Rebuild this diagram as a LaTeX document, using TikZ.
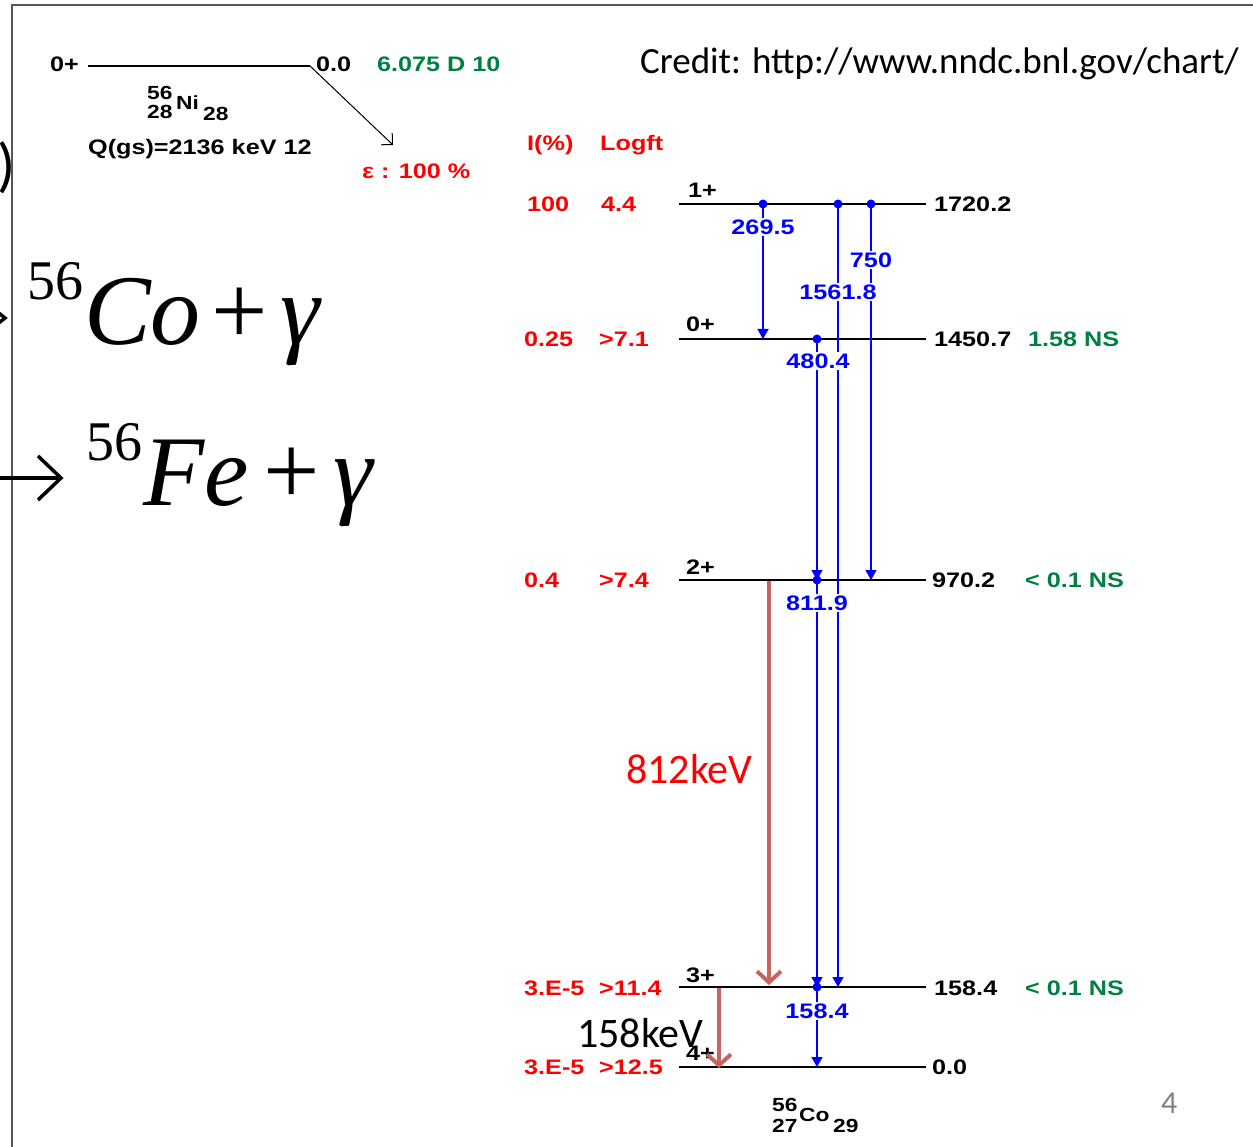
\documentclass[tikz,border=0pt]{standalone}
\usepackage{fontspec}
\usetikzlibrary{arrows.meta}
\newfontfamily\chartfont{Liberation Sans}[FakeStretch=1.2]
\newfontfamily\slidefont{Carlito}
\newfontfamily\eqfont{Liberation Serif}
\definecolor{chartred}{RGB}{255,0,0}
\definecolor{chartblue}{RGB}{0,0,255}
\definecolor{chartgreen}{RGB}{0,128,64}
\definecolor{markred}{RGB}{200,100,95}
\definecolor{framegray}{RGB}{85,85,85}
\definecolor{pagegray}{RGB}{128,128,128}
\tikzset{
  chart/.style={font=\chartfont\bfseries\fontsize{21}{21}\selectfont, inner sep=0pt, anchor=base west},
  small/.style={font=\chartfont\bfseries\fontsize{19}{19}\selectfont, inner sep=0pt, anchor=base west},
  redtxt/.style={chart, text=chartred},
  greentxt/.style={chart, text=chartgreen},
  lvl/.style={draw=black, line width=1.5pt},
  gam/.style={draw=chartblue, line width=1.6pt, -{Triangle[width=11pt,length=10pt]}},
  glab/.style={font=\chartfont\bfseries\fontsize{21}{21}\selectfont, text=chartblue, fill=white, inner sep=2pt, anchor=center},
  gdot/.style={fill=chartblue},
  hiarrow/.style={draw=markred, line width=4pt, -{Straight Barb[length=11pt,width=24pt]}},
  slide/.style={inner sep=0pt, anchor=base west},
  eqbig/.style={font=\eqfont\fontsize{100}{100}\selectfont, inner sep=0pt, anchor=base west},
  eqsup/.style={font=\eqfont\fontsize{56}{56}\selectfont, inner sep=0pt, anchor=base west},
}
\begin{document}
\begin{tikzpicture}[x=1pt,y=-1pt]
\useasboundingbox (0,0) rectangle (1253,1147);

% slide frame
\coordinate (frameBL) at (12,1160);
\coordinate (frameTL) at (12,5);
\coordinate (frameTR) at (1260,5);
\draw[framegray, line width=2.5pt] (frameBL) -- (frameTL) -- (frameTR);

% reaction equations on the slide (partly cut at the left edge)
\node[font=\slidefont\fontsize{60}{60}\selectfont, inner sep=0pt, anchor=east] (paren) at (16,168) {)};
\draw[black, line width=3.5pt] (-20,298) -- (5,318) -- (-20,338);
\node[eqsup] (supA) at (27,300) {56};
\node[eqbig] (coBig) at (84,345) {\itshape Co};
\node[eqbig] (plusA) at (211,345) {+};
\node[eqbig] (gamA) at (280,345) {\itshape γ};
\draw[black, line width=3.5pt] (-5,478) -- (60,478);
\draw[black, line width=3.5pt] (38,456) -- (61,478) -- (38,500);
\node[eqsup] (supB) at (86,460) {56};
\node[eqbig] (feBig) at (143,505) {\itshape Fe};
\node[eqbig] (plusB) at (263,504) {+};
\node[eqbig] (gamB) at (333,505) {\itshape γ};

% credit line
\node[slide, font=\slidefont\fontsize{37}{37}\selectfont] (credit) at (640,74) {Credit: http://www.nndc.bnl.gov/chart/};

% parent 56Ni
\node[chart] (niSpin) at (50,72) {0+};
\coordinate (niL) at (88,66);
\coordinate (niR) at (310,66);
\draw[black, line width=1.2pt] (niL) -- (niR);
\node[chart] (niE) at (316,72) {0.0};
\node[greentxt] (niHalf) at (377,72) {6.075 D 10};
\node[small] (niA) at (147,100) {56};
\node[small] (niZ) at (147,119) {28};
\node[small] (niSym) at (176,110) {Ni};
\node[small] (niN) at (203,121) {28};
\node[chart] (niQ) at (88,155) {Q(gs)=2136 keV 12};
\coordinate (ecTip) at (393,145);
\draw[black, line width=1pt, -{Straight Barb[length=8pt,width=16pt]}] (niR) -- (ecTip);
\node[redtxt] (ecBr) at (362,179) {ε : 100 \%};

% column headers
\node[redtxt] (hdrI) at (527,150.5) {I(\%)};
\node[redtxt] (hdrL) at (600,150.5) {Logft};

% levels of 56Co
\foreach \nm/\yy in {a/204, b/339, c/580, d/987, e/1067}{
  \coordinate (lv\nm L) at (679,\yy);
  \coordinate (lv\nm R) at (926,\yy);
  \draw[lvl] (lv\nm L) -- (lv\nm R);
}

% left columns
\node[redtxt] (iA) at (527,211.5) {100};
\node[redtxt] (fA) at (601,211.5) {4.4};
\node[redtxt] (iB) at (524,346.5) {0.25};
\node[redtxt] (fB) at (599,346.5) {>7.1};
\node[redtxt] (iC) at (524,587.5) {0.4};
\node[redtxt] (fC) at (599,587.5) {>7.4};
\node[redtxt] (iD) at (524,995) {3.E-5};
\node[redtxt] (fD) at (599,995) {>11.4};
\node[redtxt] (iE) at (524,1074.5) {3.E-5};
\node[redtxt] (fE) at (599,1074.5) {>12.5};

% spins
\node[chart] (sA) at (688,198) {1+};
\node[chart] (sB) at (686,332) {0+};
\node[chart] (sC) at (686,574) {2+};
\node[chart] (sD) at (686,982) {3+};
\node[chart] (sE) at (686,1060) {4+};

% energies and half-lives
\node[chart] (eA) at (934,211.5) {1720.2};
\node[chart] (eB) at (934,346.5) {1450.7};
\node[greentxt] (tB) at (1028,346.5) {1.58 NS};
\node[chart] (eC) at (932,587.5) {970.2};
\node[greentxt] (tC) at (1025,587.5) {< 0.1 NS};
\node[chart] (eD) at (934,995) {158.4};
\node[greentxt] (tD) at (1025,995) {< 0.1 NS};
\node[chart] (eE) at (932,1074.5) {0.0};

% gamma transitions
\coordinate (g1s) at (763,204);  \coordinate (g1e) at (763,339);
\coordinate (g2s) at (838,204);  \coordinate (g2e) at (838,987);
\coordinate (g3s) at (871,204);  \coordinate (g3e) at (871,580);
\coordinate (g4s) at (817,339);  \coordinate (g4e) at (817,580);
\coordinate (g5s) at (817,580);  \coordinate (g5e) at (817,987);
\coordinate (g6s) at (817,987);  \coordinate (g6e) at (817,1067);
\foreach \g in {1,...,6}{
  \draw[gam] (g\g s) -- (g\g e);
  \fill[gdot] (g\g s) circle (4.5);
}
\node[glab] (l1) at (763,227) {269.5};
\node[glab] (l3) at (871,260) {750};
\node[glab] (l2) at (838,292) {1561.8};
\node[glab] (l4) at (818,361) {480.4};
\node[glab] (l5) at (817,603) {811.9};
\node[glab] (l6) at (817,1011) {158.4};

% daughter label
\node[small] (coA) at (772,1111) {56};
\node[small] (coZ) at (772,1132) {27};
\node[small] (coSym) at (799,1121) {Co};
\node[small] (coN) at (833,1132) {29};

% highlighted gamma lines
\coordinate (h1s) at (769,581);  \coordinate (h1e) at (769,985);
\coordinate (h2s) at (719,988);  \coordinate (h2e) at (719,1068);
\draw[hiarrow] (h1s) -- (h1e);
\draw[hiarrow] (h2s) -- (h2e);
\node[slide, font=\slidefont\fontsize{42}{42}\selectfont, text=chartred] (k812) at (626,783) {812keV};
\node[slide, font=\slidefont\fontsize{42}{42}\selectfont] (k158) at (577,1047) {158keV};

% page number
\node[slide, font=\slidefont\fontsize{32}{32}\selectfont, text=pagegray] (pageno) at (1161,1113) {4};
\end{tikzpicture}
\end{document}
